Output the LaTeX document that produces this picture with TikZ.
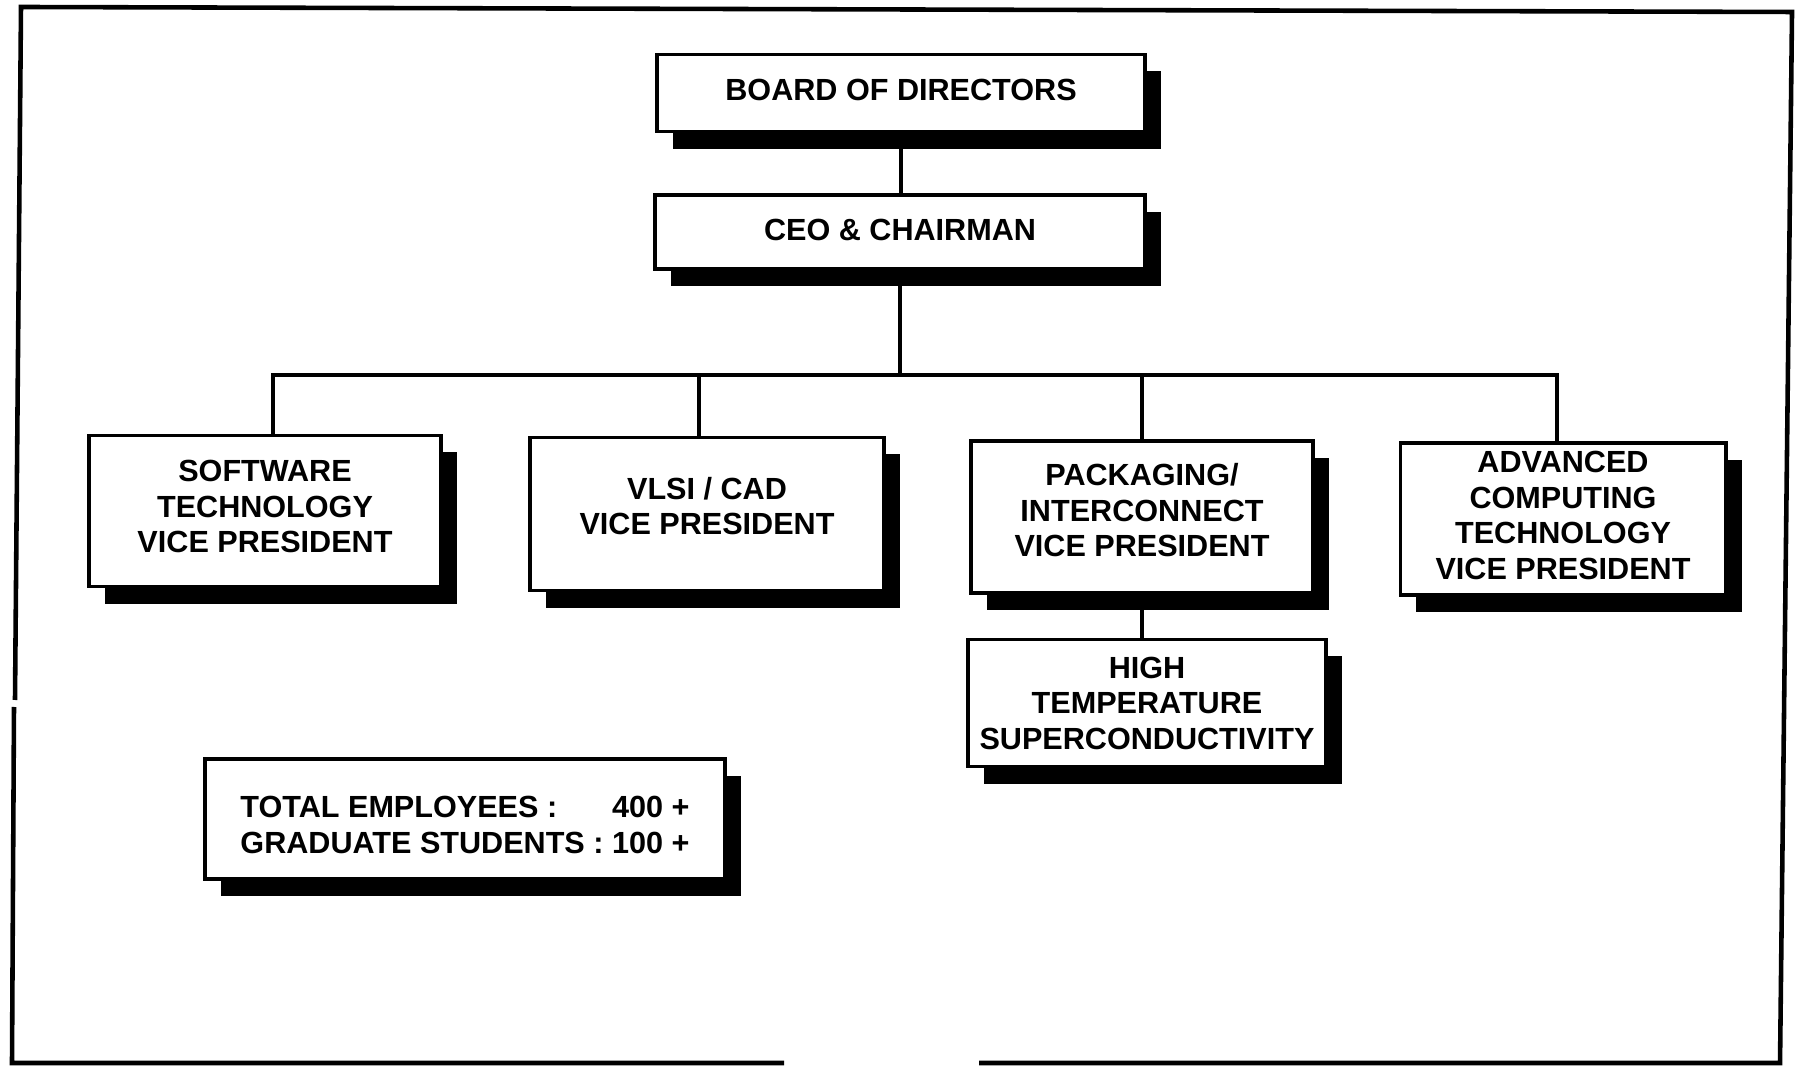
\documentclass[tikz,border=0pt]{standalone}
\usepackage{fontspec}
\setmainfont{Liberation Sans}
\usetikzlibrary{shadows}

\begin{document}
\begin{tikzpicture}[x=0.01cm, y=-0.01cm,
    boite/.style={draw, fill=white, line width=1.1pt, inner sep=0pt, align=center,
      font=\bfseries\fontsize{8.7}{10.1}\selectfont,
      drop shadow={opacity=1, fill=black, shadow xshift=0.16cm, shadow yshift=-0.17cm}},
    lien/.style={line width=0.9pt}]
  \useasboundingbox (0,0) rectangle (1795,1068);

  % Le cadre
  \draw[line width=1.3pt] (15,700) -- (21,7) -- (1792,12) -- (1780,1063) -- (979,1063);
  \draw[line width=1.3pt] (784,1063) -- (12,1063) -- (14,707);

  % Les boîtes
  \node[boite, minimum width=4.87cm, minimum height=0.77cm, text depth=2pt] (board) at (901,93) {BOARD OF DIRECTORS};
  \node[boite, minimum width=4.89cm, minimum height=0.74cm, text depth=1.3pt] (ceo) at (900,232) {CEO \& CHAIRMAN};
  \node[boite, minimum width=3.52cm, minimum height=1.51cm, text depth=2.6pt] (sw) at (265,511) {SOFTWARE\\TECHNOLOGY\\VICE PRESIDENT};
  \node[boite, minimum width=3.54cm, minimum height=1.53cm, text depth=4.6pt] (vlsi) at (707,514) {VLSI / CAD\\VICE PRESIDENT};
  \node[boite, minimum width=3.41cm, minimum height=1.52cm, text depth=3.9pt] (pkg) at (1142,517) {PACKAGING/\\INTERCONNECT\\VICE PRESIDENT};
  \node[boite, minimum width=3.25cm, minimum height=1.52cm, text depth=2pt] (adv) at (1563,519) {ADVANCED\\COMPUTING\\TECHNOLOGY\\VICE PRESIDENT};
  \node[boite, minimum width=3.57cm, minimum height=1.27cm] (htc) at (1147,703) {HIGH\\TEMPERATURE\\SUPERCONDUCTIVITY};
  \node[boite, minimum width=5.19cm, minimum height=1.20cm] (total) at (465,819)
    {\raisebox{-2.6pt}[\height][\depth]{\begin{tabular}{@{}l@{\ }r@{}}TOTAL EMPLOYEES : & 400 +\\GRADUATE STUDENTS : & 100 +\end{tabular}}};

  % Les liens
  \coordinate (bus) at (900,375);
  \draw[lien] (board.south) -- (board.south |- ceo.north);
  \draw[lien] (ceo.south) -- (bus);
  \foreach \n/\d in {sw/0.08, vlsi/-0.08, pkg/0, adv/-0.06}
    \draw[lien] (bus) -| ([xshift=\d cm]\n.north);
  \draw[lien] (pkg.south) -- (pkg.south |- htc.north);
\end{tikzpicture}
\end{document}
